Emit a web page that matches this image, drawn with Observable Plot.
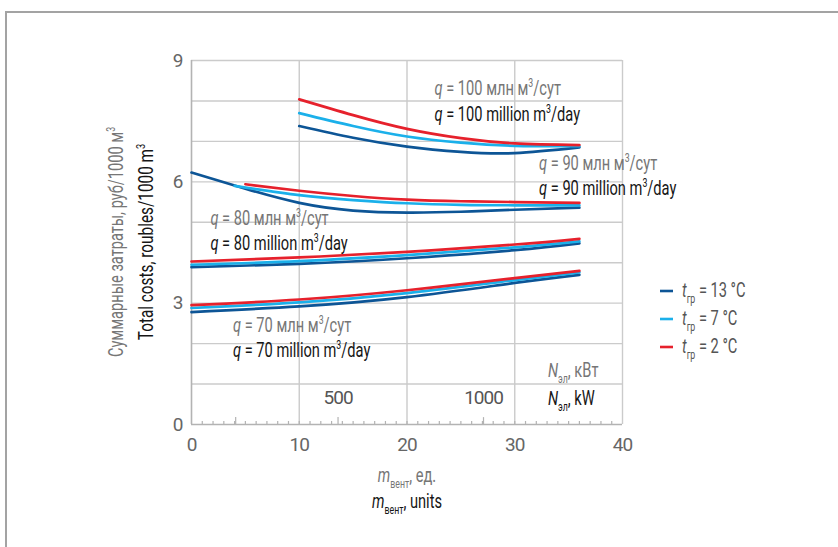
<!DOCTYPE html>
<html>
<head>
<meta charset="utf-8">
<script src="https://cdn.jsdelivr.net/npm/d3@7"></script>
<script src="https://cdn.jsdelivr.net/npm/@observablehq/plot@0.6"></script>
<style>
  body { margin: 0; background: #fff; }
  #frame { position: absolute; left: 5px; top: 11px; width: 900px; height: 600px;
           border-top: 2px solid #a3a3a3; border-left: 2px solid #a3a3a3; }
  #chart { position: absolute; left: 0; top: 0; }
</style>
</head>
<body>
<div id="frame"></div>
<div id="chart"></div>
<script>
// ---------- data ----------
const temps = ["13", "7", "2"];                     // t_гр, °C
const colors = ["#0d5596", "#1bb0ea", "#e6212c"];

// q = 100 million m3/day
const x100 = [10, 15, 20, 25, 30, 36];
const q100_t13 = [7.38, 7.09, 6.87, 6.74, 6.71, 6.85];
const q100_t7  = [7.70, 7.38, 7.12, 6.97, 6.89, 6.88];
const q100_t2  = [8.04, 7.65, 7.31, 7.08, 6.95, 6.91];

// q = 90 million m3/day
const x90_t13 = [0, 5, 10, 15, 20, 25, 30, 36];
const q90_t13 = [6.23, 5.83, 5.48, 5.29, 5.24, 5.26, 5.31, 5.36];
const x90_t7 = [4, 10, 15, 20, 25, 30, 36];
const q90_t7 = [5.90, 5.67, 5.55, 5.47, 5.43, 5.42, 5.42];
const x90_t2 = [5, 10, 15, 20, 25, 30, 36];
const q90_t2 = [5.94, 5.78, 5.65, 5.56, 5.52, 5.50, 5.48];

// q = 80 million m3/day
const x80 = [0, 10, 20, 30, 36];
const q80_t13 = [3.89, 3.97, 4.11, 4.31, 4.48];
const q80_t7  = [3.95, 4.04, 4.19, 4.38, 4.53];
const q80_t2  = [4.03, 4.13, 4.27, 4.45, 4.59];

// q = 70 million m3/day
const x70 = [0, 10, 20, 30, 36];
const q70_t13 = [2.78, 2.92, 3.15, 3.50, 3.70];
const q70_t7  = [2.88, 3.02, 3.25, 3.57, 3.76];
const q70_t2  = [2.95, 3.09, 3.32, 3.62, 3.80];

// axes
const yTicks = [0, 3, 6, 9];
const yGrid = [1, 2, 3, 4, 5, 6, 7, 8, 9];
const xTicks = [0, 10, 20, 30, 40];
const xGrid = [10, 20, 30, 40];
const minorTicks = d3.range(1, 40);
// secondary scale N_эл, kW (tick positions on the m_вент axis)
const kwLabels = ["500", "1000"];
const kwLabelAt = [13.6, 27.1];
const kwMajorAt = [4.1, 13.6, 27.1];

// annotation anchors (data coordinates)
const qValues = ["100", "90", "80", "70"];
const qLabelX = [22.6, 32.3, 1.8, 3.9];
const qLabelYru = [8.14, 6.28, 4.92, 2.28];
const qLabelYen = [7.50, 5.66, 4.30, 1.66];

// ---------- table ----------
const series = [
  ["100", "13", x100, q100_t13], ["100", "7", x100, q100_t7], ["100", "2", x100, q100_t2],
  ["90", "13", x90_t13, q90_t13], ["90", "7", x90_t7, q90_t7], ["90", "2", x90_t2, q90_t2],
  ["80", "13", x80, q80_t13], ["80", "7", x80, q80_t7], ["80", "2", x80, q80_t2],
  ["70", "13", x70, q70_t13], ["70", "7", x70, q70_t7], ["70", "2", x70, q70_t2]
];
const rows = [];
for (const [q, t, xs, ys] of series) xs.forEach((x, i) => rows.push({q, t, x, y: ys[i], key: q + "-" + t}));

const FONT = 'Roboto, "Noto Sans", sans-serif';
const GRID = "#cbcbcb";
const AXIS = "#b3b3b3";
const GRAY = "#767676";
const BLACK = "#161616";

const plot = Plot.plot({
  width: 838,
  height: 547,
  marginLeft: 191,
  marginRight: 216,
  marginTop: 60,
  marginBottom: 123,
  style: {fontFamily: FONT, background: "transparent"},
  x: {domain: [0, 40]},
  y: {domain: [0, 9]},
  color: {domain: temps, range: colors},
  marks: [
    Plot.gridY(yGrid, {stroke: GRID, strokeOpacity: 1, strokeWidth: 1.4}),
    Plot.gridX(xGrid, {stroke: GRID, strokeOpacity: 1, strokeWidth: 1.4}),
    Plot.ruleX(minorTicks, {x: d => d, y1: 0, y2: 0.075, stroke: AXIS, strokeWidth: 1.2}),
    Plot.ruleX(kwMajorAt, {x: d => d, y1: 0, y2: 0.17, stroke: AXIS, strokeWidth: 1.2}),
    Plot.ruleY([0], {stroke: AXIS, strokeWidth: 1.6}),
    Plot.ruleX([0], {stroke: AXIS, strokeWidth: 1.6}),
    Plot.axisY({ticks: yTicks, tickSize: 0, tickPadding: 9, fontSize: 19, color: "#666", label: null}),
    Plot.axisX({ticks: xTicks, tickSize: 0, tickPadding: 13, fontSize: 19, color: "#666", label: null}),
    Plot.text(kwLabels, {x: (d, i) => kwLabelAt[i], y: 0, dy: -27, text: d => d, fontSize: 19, fill: "#555"}),
    Plot.line(rows, {x: "x", y: "y", z: "key", stroke: "t", strokeWidth: 2.7, curve: "natural"})
  ]
});
document.getElementById("chart").appendChild(plot);

// condensed look: tighten Plot's own labels a little
d3.select(plot).selectAll("text").attr("letter-spacing", "-1px");

// ---------- rich texts (sub/superscripts), horizontally condensed ----------
const svg = d3.select(plot);
const sx = plot.scale("x"), sy = plot.scale("y");
const layer = svg.append("g").attr("font-family", FONT);
let K = 1;

function rich(x, y, parts, {size = 20, fill = BLACK, anchor = "start", rotate = 0} = {}) {
  const g = layer.append("g")
    .attr("transform", `translate(${x},${y})${rotate ? ` rotate(${rotate})` : ""} scale(${K},1)`);
  const t = g.append("text")
    .attr("font-size", size).attr("fill", fill).attr("text-anchor", anchor);
  let off = 0;
  for (const p of parts) {
    const s = t.append("tspan").text(p.t);
    let target = 0;
    if (p.sub) { target = size * 0.32; s.attr("font-size", size * 0.6); }
    if (p.sup) { target = -size * 0.38; s.attr("font-size", size * 0.6); }
    if (p.i) s.attr("font-style", "italic");
    if (target !== off) { s.attr("dy", target - off); off = target; }
  }
  return g;
}

// measure once to set the condensation factor (reference width of this label ≈ 145 px)
{
  const probe = rich(0, -100, [{t: "q", i: true}, {t: " = 100 million m"}, {t: "3", sup: true}, {t: "/day"}]);
  const w = probe.node().getBBox().width;
  probe.remove();
  K = w > 0 ? 146 / w : 0.75;
}

// q annotations
qValues.forEach((q, i) => {
  const px = sx.apply(qLabelX[i]);
  rich(px, sy.apply(qLabelYru[i]), [{t: "q", i: true}, {t: " = " + q + " млн м"}, {t: "3", sup: true}, {t: "/сут"}], {fill: GRAY});
  rich(px, sy.apply(qLabelYen[i]), [{t: "q", i: true}, {t: " = " + q + " million m"}, {t: "3", sup: true}, {t: "/day"}], {fill: BLACK});
});

// N_эл labels
rich(548, 377, [{t: "N", i: true}, {t: "эл", sub: true}, {t: ", кВт"}], {fill: GRAY});
rich(548, 405, [{t: "N", i: true}, {t: "эл", sub: true}, {t: ", kW"}], {fill: BLACK});

// x title
rich(407, 482, [{t: "m", i: true}, {t: "вент", sub: true}, {t: ", ед."}], {fill: GRAY, anchor: "middle"});
rich(407, 508, [{t: "m", i: true}, {t: "вент", sub: true}, {t: ", units"}], {fill: BLACK, anchor: "middle"});

// y title
rich(123, 242, [{t: "Суммарные затраты, руб/1000 м"}, {t: "3", sup: true}], {fill: GRAY, anchor: "middle", size: 20, rotate: -90});
rich(153, 242, [{t: "Total costs, roubles/1000 m"}, {t: "3", sup: true}], {fill: BLACK, anchor: "middle", size: 21, rotate: -90});

// legend
temps.forEach((t, i) => {
  const y = 291 + i * 28;
  layer.append("line").attr("x1", 660).attr("x2", 673).attr("y1", y).attr("y2", y)
    .attr("stroke", colors[i]).attr("stroke-width", 2.6);
  rich(682, y + 6, [{t: "t", i: true}, {t: "гр", sub: true}, {t: " = " + t + " °C"}], {fill: "#555"});
});
</script>
</body>
</html>
